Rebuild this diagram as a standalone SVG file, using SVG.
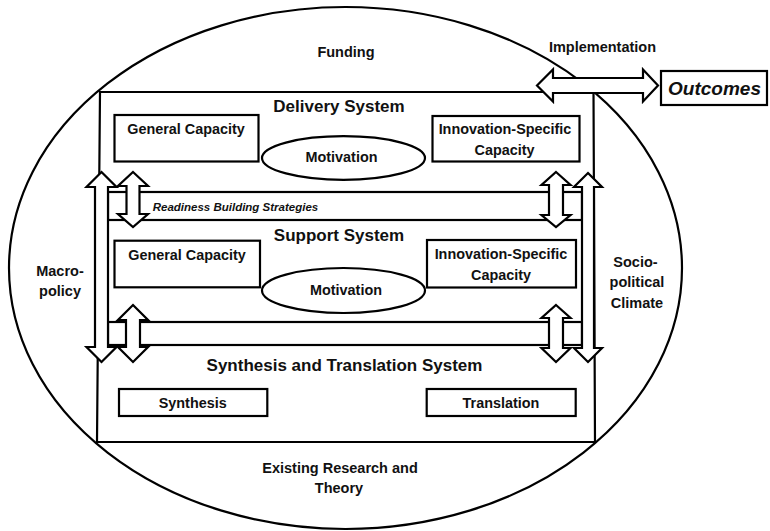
<svg xmlns="http://www.w3.org/2000/svg" width="770" height="531" viewBox="0 0 770 531">
<style>
.ln{fill:#fff;stroke:#000;stroke-width:2.2}
.nf{fill:none;stroke:#000;stroke-width:2.2}
.t{font-family:"Liberation Sans",Arial,sans-serif;font-weight:bold;font-size:14.4px;fill:#111;text-anchor:middle}
.h{font-size:17px}
.o{font-size:14.5px}
.i{font-style:italic}
</style>
<rect width="770" height="531" fill="#fff"/>
<g id="context">
<ellipse class="nf" cx="345.5" cy="268" rx="336.5" ry="261"/>
<text class="t o" x="346" y="57">Funding</text>
<text class="t o" x="60" y="275.5">Macro-</text>
<text class="t o" x="60" y="295.5">policy</text>
<text class="t o" x="635.5" y="267">Socio-</text>
<text class="t o" x="637" y="287">political</text>
<text class="t o" x="637" y="307.5">Climate</text>
<text class="t o" x="340" y="472.7">Existing Research and</text>
<text class="t o" x="339" y="492.5">Theory</text>
</g>
<g id="frame">
<path class="ln" d="M100,92 L593.5,92 L595,442 L97,442 Z"/>
</g>
<g id="delivery">
<text class="t h" x="339" y="112">Delivery System</text>
<rect class="ln" x="114.5" y="115" width="144" height="46.5"/>
<text class="t" x="186" y="134.3">General Capacity</text>
<ellipse class="ln" cx="343.5" cy="158" rx="81.5" ry="21.8"/>
<text class="t" x="341.5" y="162">Motivation</text>
<rect class="ln" x="432.5" y="116" width="147" height="45.5"/>
<text class="t" x="505" y="134">Innovation-Specific</text>
<text class="t" x="504.5" y="155">Capacity</text>
</g>
<g id="support">
<text class="t h" x="339" y="241">Support System</text>
<rect class="ln" x="114.5" y="240.7" width="145.5" height="46.6"/>
<text class="t" x="187" y="260">General Capacity</text>
<ellipse class="ln" cx="343.5" cy="290.5" rx="81.5" ry="22.5"/>
<text class="t" x="346" y="295">Motivation</text>
<rect class="ln" x="427" y="240" width="149" height="47.5"/>
<text class="t" x="501" y="259">Innovation-Specific</text>
<text class="t" x="501" y="279.5">Capacity</text>
</g>
<g id="synthesis">
<text class="t h" x="344.5" y="371">Synthesis and Translation System</text>
<rect class="ln" x="119" y="389" width="148.3" height="27"/>
<text class="t" x="192.7" y="408">Synthesis</text>
<rect class="ln" x="426.7" y="389" width="149" height="27"/>
<text class="t" x="501" y="408">Translation</text>
</g>
<g id="readiness">
<rect class="ln" x="108" y="192" width="474" height="28"/>
<text class="t i" x="152.7" y="210.5" style="font-size:11.5px;text-anchor:start">Readiness Building Strategies</text>
</g>
<g id="band2">
<rect class="ln" x="108" y="322" width="474" height="23"/>
</g>
<g id="connectors">
<polygon class="ln" points="101.5,172 116.5,187 108,187 108,347 116.5,347 101.5,362 86.5,347 95,347 95,187 86.5,187"/>
<polygon class="ln" points="133,172 148,186 139.5,186 139.5,214 148,214 133,227 118,214 126.5,214 126.5,186 118,186"/>
<polygon class="ln" points="133,305 148,320 140,320 140,347 148,347 133,362 118,347 126,347 126,320 118,320"/>
<polygon class="ln" points="588,173 602,187 594,187 594,348 602,348 588,362 574,348 582,348 582,187 574,187"/>
<polygon class="ln" points="556,172 570.5,185 563,185 563,215 570.5,215 556,227 541.5,215 549,215 549,185 541.5,185"/>
<polygon class="ln" points="556,305 570.5,318 563,318 563,348 570.5,348 556,362 541.5,348 549,348 549,318 541.5,318"/>
<polygon class="ln" points="537,85.5 553,69.5 553,78 643,78 643,69.5 658,85.5 643,101.5 643,93 553,93 553,101.5"/>
<text class="t o" x="602.5" y="52">Implementation</text>
</g>
<g id="outcomes">
<rect class="ln" x="661" y="71" width="106" height="34"/>
<text class="t i" x="714.5" y="95" style="font-size:19px">Outcomes</text>
</g>
</svg>
